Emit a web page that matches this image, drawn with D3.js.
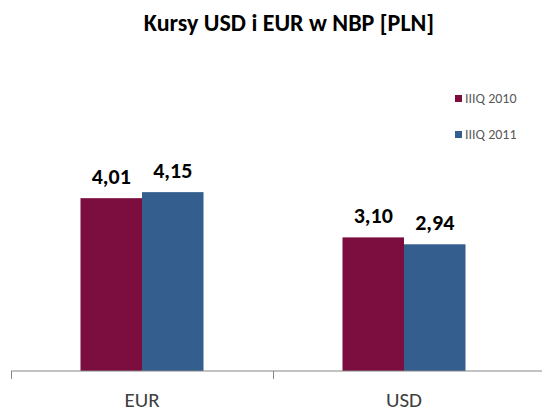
<!DOCTYPE html>
<html lang="pl">
<head>
<meta charset="UTF-8">
<title>Kursy USD i EUR w NBP</title>
<script src="https://d3js.org/d3.v7.min.js"></script>
<style>
    body { margin: 0; background: white; }
    svg { display: block; font-family: Carlito, "Open Sans", "Liberation Sans", sans-serif; }
</style>
</head>
<body>
<svg id="chart" width="542" height="407"></svg>
<script>
    // dane
    const categories = ['EUR', 'USD'];
    const seriesNames = ['IIIQ 2010', 'IIIQ 2011'];
    const values2010 = [4.01, 3.10];
    const values2011 = [4.15, 2.94];
    const colors = ['#7B0D3F', '#335E8E'];

    const svg = d3.select('#chart');
    const fmt = v => d3.format('.2f')(v).replace('.', ',');

    const x = d3.scaleBand().domain(categories).range([11, 535]);
    const xInner = d3.scaleBand().domain(seriesNames).range([0, 123]);
    const y = d3.scaleLinear().domain([0, 4.5]).range([371, 371 - 43.1 * 4.5]);

    svg.append('text')
        .attr('x', 289).attr('y', 31)
        .attr('text-anchor', 'middle')
        .attr('font-size', 24).attr('font-weight', 'bold')
        .attr('fill', '#000')
        .text('Kursy USD i EUR w NBP [PLN]');

    const series = [values2010, values2011];
    series.forEach((vals, s) => {
        const g = svg.append('g');
        g.selectAll('rect')
            .data(categories)
            .enter()
            .append('rect')
            .attr('x', d => x(d) + (x.bandwidth() - 123) / 2 + xInner(seriesNames[s]))
            .attr('y', (d, i) => y(vals[i]))
            .attr('width', xInner.bandwidth())
            .attr('height', (d, i) => y(0) - y(vals[i]))
            .attr('fill', colors[s]);
        g.selectAll('text')
            .data(categories)
            .enter()
            .append('text')
            .attr('x', d => x(d) + (x.bandwidth() - 123) / 2 + xInner(seriesNames[s]) + xInner.bandwidth() / 2)
            .attr('y', (d, i) => y(vals[i]) - 14)
            .attr('text-anchor', 'middle')
            .attr('font-size', 22).attr('font-weight', 'bold')
            .attr('fill', '#000')
            .text((d, i) => fmt(vals[i]));
    });

    // os X
    const axis = svg.append('g').attr('transform', 'translate(0,371)');
    axis.append('line')
        .attr('x1', 11).attr('x2', 542)
        .attr('stroke', '#868686');
    axis.selectAll('.tick')
        .data([11, 273])
        .enter()
        .append('line')
        .attr('x1', d => d + 0.5).attr('x2', d => d + 0.5)
        .attr('y1', 0).attr('y2', 8)
        .attr('stroke', '#868686');
    axis.selectAll('.lab')
        .data(categories)
        .enter()
        .append('text')
        .attr('x', d => x(d) + x.bandwidth() / 2)
        .attr('y', 36)
        .attr('text-anchor', 'middle')
        .attr('font-size', 21)
        .attr('fill', '#404040')
        .text(d => d);

    // legenda
    const legend = svg.append('g');
    seriesNames.forEach((name, i) => {
        const ly = 98 + i * 36;
        legend.append('rect')
            .attr('x', 455).attr('y', ly - 3)
            .attr('width', 7).attr('height', 7)
            .attr('fill', colors[i]);
        legend.append('text')
            .attr('x', 465).attr('y', ly + 5)
            .attr('font-size', 14)
            .attr('fill', '#595959')
            .text(name);
    });
</script>
</body>
</html>
